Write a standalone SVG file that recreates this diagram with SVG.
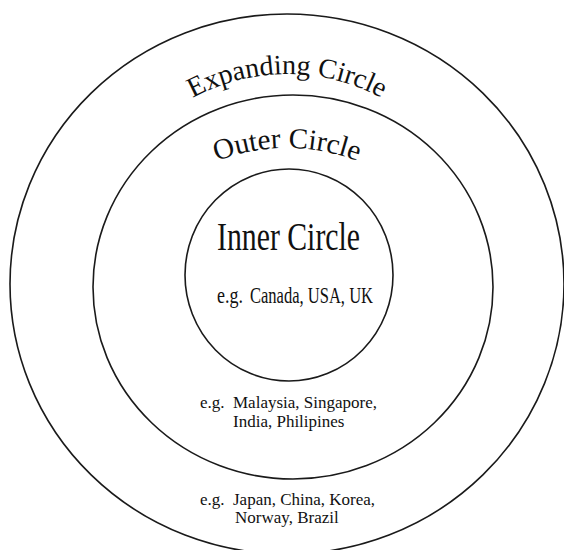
<svg xmlns="http://www.w3.org/2000/svg" width="564" height="550" viewBox="0 0 564 550">
<style>
.ring{fill:none;stroke:#1a1a1a;stroke-width:1.6}
.t{font-family:"Liberation Serif","Times New Roman",serif;fill:#111}
</style>
<defs>
<path id="arcExp" d="M 89 272 A 198 198 0 0 1 485 272"/>
<path id="arcOut" d="M 92 343 A 195 195 0 0 1 482 343"/>
</defs>
<rect width="564" height="550" fill="#fff"/>
<g id="expanding">
<ellipse class="ring" cx="287" cy="284" rx="277" ry="270"/>
<text class="t" font-size="28" text-anchor="middle"><textPath href="#arcExp" startOffset="50%">Expanding Circle</textPath></text>
<text class="t" font-size="17"><tspan x="200" y="505">e.g.</tspan><tspan x="233" y="505">Japan, China, Korea,</tspan><tspan x="235" y="523">Norway, Brazil</tspan></text>
</g>
<g id="outer">
<ellipse class="ring" cx="293" cy="287" rx="200" ry="192"/>
<text class="t" font-size="29" text-anchor="middle"><textPath href="#arcOut" startOffset="50%">Outer Circle</textPath></text>
<text class="t" font-size="17"><tspan x="200" y="408">e.g.</tspan><tspan x="233" y="408">Malaysia, Singapore,</tspan><tspan x="233" y="427">India, Philipines</tspan></text>
</g>
<g id="inner">
<ellipse class="ring" cx="289" cy="275" rx="104" ry="106"/>
<text class="t" x="217" y="250" font-size="40" textLength="143" lengthAdjust="spacingAndGlyphs">Inner Circle</text>
<text class="t" x="217" y="303" font-size="23" textLength="26" lengthAdjust="spacingAndGlyphs">e.g.</text>
<text class="t" x="250" y="303" font-size="23" textLength="123" lengthAdjust="spacingAndGlyphs">Canada, USA, UK</text>
</g>
<g id="connectors"/>
</svg>
